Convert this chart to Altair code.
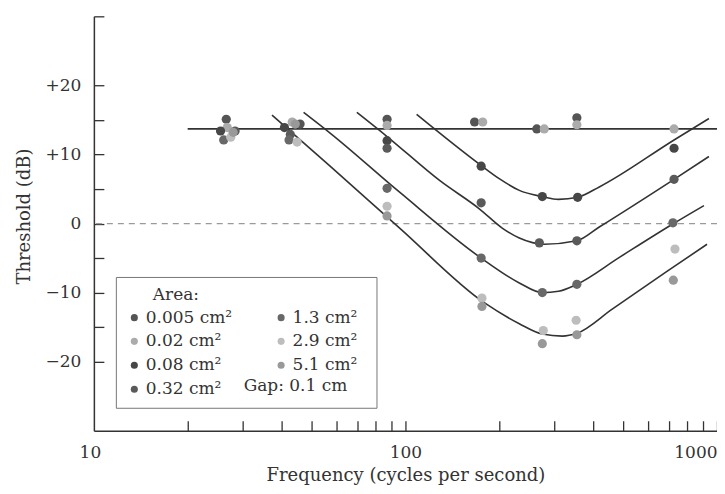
import altair as alt
import pandas as pd

# ---------------- data ----------------
areas = ["0.005 cm²", "0.02 cm²", "0.08 cm²", "0.32 cm²", "1.3 cm²", "2.9 cm²", "5.1 cm²"]
area_colors = ["#555555", "#ababab", "#474747", "#5a5a5a", "#686868", "#bdbdbd", "#999999"]
gap_label = "Gap: 0.1 cm"

# measured points: area index, frequency (Hz), threshold (dB)
pt_area = [0, 1, 2, 3, 4, 5, 6,
           0, 1, 2, 3, 4, 5, 6,
           0, 1, 2, 3, 4, 5, 6,
           0, 1, 2, 3, 4, 5, 6,
           0, 1, 2, 3, 4, 5, 6,
           0, 1, 2, 3, 4, 5, 6,
           1, 2, 3, 4, 5, 6]
pt_freq = [26.6, 26.8, 25.5, 28.4, 26.1, 27.5, 28.0,
           45.9, 43.3, 40.9, 42.7, 42.3, 44.9, 44.3,
           87.3, 87.3, 87.3, 87.3, 87.3, 87.3, 87.3,
           166.7, 177, 175, 175, 175, 176, 176,
           264, 279, 275, 269, 275, 277, 275,
           355, 355, 357, 355, 355, 353, 355,
           728, 728, 728, 722, 733, 724]
pt_db = [15.1, 13.9, 13.4, 13.4, 12.1, 12.5, 13.2,
         14.4, 14.7, 13.9, 12.9, 12.1, 11.8, 14.4,
         15.1, 14.2, 12.0, 10.9, 5.1, 2.5, 1.1,
         14.7, 14.7, 8.3, 3.0, -5.0, -10.8, -12.0,
         13.7, 13.7, 3.9, -2.8, -10.0, -15.5, -17.4,
         15.3, 14.3, 3.8, -2.5, -8.8, -14.0, -16.1,
         13.7, 10.9, 6.4, 0.1, -3.7, -8.2]

# fitted curves
flat_f = [20, 1000]
flat_db = [13.7, 13.7]
c1_f = [37.3, 57.3, 96, 179.5, 232, 275, 319, 355, 461, 687, 929]
c1_db = [15.7, 8.3, -0.7, -11.5, -14.5, -16.0, -16.3, -15.9, -12.4, -7.0, -3.0]
c2_f = [47.1, 57.3, 96, 175, 232, 275, 310, 355, 486, 719, 908]
c2_db = [16.1, 13.1, 4.5, -5.0, -8.6, -10.0, -9.8, -8.8, -4.9, -0.1, 2.6]
c3_f = [69.8, 87.3, 129, 173, 205, 232, 279, 355, 419, 728, 942]
c3_db = [16.1, 12.6, 6.2, 2.1, -0.7, -2.1, -3.0, -2.5, -0.5, 6.4, 9.7]
c4_f = [108.6, 175, 200, 232, 275, 310, 357, 419, 728, 942]
c4_db = [15.8, 8.4, 6.5, 4.8, 3.9, 3.5, 3.8, 5.3, 12.1, 15.2]

x_label_vals = [10, 100, 1000]
x_tick_vals = [20, 30, 40, 50, 60, 70, 80, 90, 100,
               200, 300, 400, 500, 600, 700, 800, 900, 1000]
y_label_vals = [-20, -10, 0, 10, 20]
y_tick_vals = [-20, -15, -10, -5, 0, 5, 10, 15, 20, 30]

# ---------------- tables ----------------
pts = pd.DataFrame({
    "area": [areas[i] for i in pt_area],
    "freq": pt_freq,
    "db": pt_db,
    "gap": [gap_label] * len(pt_freq),
})

curves = []
for name, fs, ds in [("flat", flat_f, flat_db), ("c1", c1_f, c1_db), ("c2", c2_f, c2_db),
                     ("c3", c3_f, c3_db), ("c4", c4_f, c4_db)]:
    for f, d in zip(fs, ds):
        curves.append({"curve": name, "freq": f, "db": d})
curve_df = pd.DataFrame(curves)

# ---------------- chart ----------------
W, H = 624, 415
FONT = "DejaVu Serif"
INK = "#333333"
legend_title = "\u200b" + "\u00a0" * 5 + "Area:" + "\u00a0" * 31 + "\u200b"

xscale = alt.Scale(type="log", domain=[10, 1000], nice=False)
yscale = alt.Scale(domain=[-30, 30], nice=False, zero=False)

zero_rule = alt.Chart(pd.DataFrame({"db": [0]})).mark_rule(
    color="#9a9a9a", strokeDash=[6, 5], strokeWidth=1.2
).encode(y=alt.Y("db:Q", scale=yscale, axis=None))

lines = alt.Chart(curve_df).mark_line(
    color=INK, strokeWidth=1.6, interpolate="monotone"
).encode(
    x=alt.X("freq:Q", scale=xscale,
            axis=alt.Axis(orient="top", offset=-H, values=x_tick_vals, labels=False,
                          domain=False, ticks=True, tickSize=10, tickColor=INK,
                          tickWidth=1.3, grid=False, title=None)),
    y=alt.Y("db:Q", scale=yscale,
            axis=alt.Axis(orient="right", offset=-W, values=y_tick_vals, labels=False,
                          domain=False, ticks=True, tickSize=10, tickColor=INK,
                          tickWidth=1.3, grid=False, title=None)),
    detail="curve:N",
)

points = alt.Chart(pts).mark_point(filled=True, size=85, opacity=1, strokeWidth=0).encode(
    x=alt.X("freq:Q", scale=xscale,
            axis=alt.Axis(orient="bottom", values=x_label_vals, format="d", ticks=False,
                          grid=False, domainColor=INK, domainWidth=1.5,
                          labelFont=FONT, labelFontSize=17, labelColor=INK,
                          labelPadding=14, labelFlush=False,
                          labelAlign={"condition": {"test": "datum.value == 1000", "value": "right"},
                                      "value": "center"},
                          labelOffset={"condition": {"test": "datum.value == 10", "value": -4},
                                       "value": 0},
                          title="Frequency (cycles per second)", titleFont=FONT,
                          titleFontSize=18, titleFontWeight="normal", titleColor=INK,
                          titleY=50, titleBaseline="alphabetic")),
    y=alt.Y("db:Q", scale=yscale,
            axis=alt.Axis(orient="left", values=y_label_vals, ticks=False, grid=False,
                          domainColor=INK, domainWidth=1.5,
                          labelExpr="datum.value > 0 ? '+' + datum.value : (datum.value < 0 ? '\u2212' + abs(datum.value) : '0')",
                          labelFont=FONT, labelFontSize=17, labelColor=INK, labelPadding=13,
                          title="Threshold (dB)", titleFont=FONT, titleFontSize=18,
                          titleFontWeight="normal", titleColor=INK,
                          titleX=-69, titleY=200, titleBaseline="middle", titleAlign="center")),
    color=alt.Color("area:N",
                    scale=alt.Scale(domain=areas, range=area_colors),
                    legend=alt.Legend(title=legend_title, orient="none",
                                      legendX=22, legendY=261, columns=2, gridAlign="all",
                                      columnPadding=40, rowPadding=6, padding=10,
                                      strokeColor="#777777", fillColor="white",
                                      symbolType="circle", symbolSize=50,
                                      symbolStrokeWidth=0, labelOffset=3,
                                      labelFont=FONT, labelFontSize=17, labelColor=INK,
                                      titleFont=FONT, titleFontSize=17, titleLimit=400,
                                      titleFontWeight="normal", titleColor=INK,
                                      titlePadding=5)),
    shape=alt.Shape("gap:N", scale=alt.Scale(domain=[gap_label], range=["circle"]),
                    legend=alt.Legend(title=None, orient="none", legendX=133, legendY=362,
                                      symbolOpacity=0, symbolSize=1, labelOffset=0,
                                      padding=0, labelFont=FONT, labelFontSize=17,
                                      labelColor=INK)),
)

chart = alt.layer(zero_rule, lines, points).resolve_axis(
    x="independent", y="independent"
).properties(
    width=W, height=H,
    padding={"left": 86, "top": 8, "right": 0, "bottom": 55},
    autosize=alt.AutoSizeParams(type="none"),
    background="white",
).configure_view(strokeWidth=0)

chart.save("out.html", embed_options={"renderer": "svg", "actions": False})
